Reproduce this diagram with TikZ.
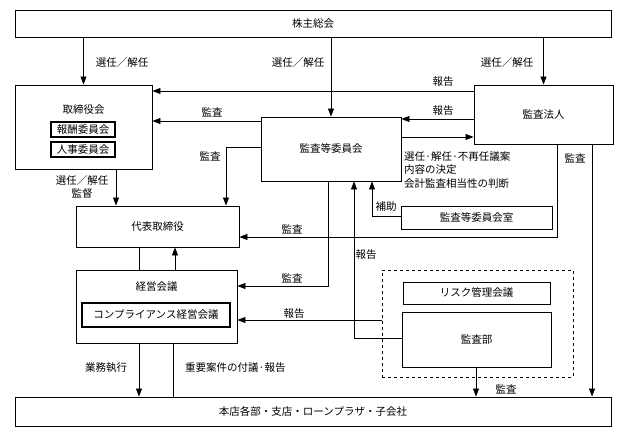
\documentclass[tikz,border=0pt]{standalone}
\usepackage{fontspec}
\setmainfont{Noto Sans CJK JP}
\usetikzlibrary{arrows.meta,calc}
\begin{document}
\begin{tikzpicture}[x=1pt,y=-1pt,
  font=\fontsize{10.5}{13.5}\selectfont,
  box/.style={draw, line width=0.9pt, inner sep=0pt, anchor=center},
  subbox/.style={draw, line width=1.2pt, inner sep=0pt, anchor=center},
  conn/.style={line width=0.7pt},
  arr/.style={conn, -{Triangle[length=8pt,width=6pt]}},
  lbl/.style={inner sep=0pt}]
\useasboundingbox (0,0) rectangle (620,438);
% boxes
\node[box, minimum width=596pt, minimum height=27pt] (sh) at (313,23.5) {株主総会};
\node[box, minimum width=137pt, minimum height=84pt] (bod) at (83.5,127) {};
\node[lbl] (bodt) at (83.5,110) {取締役会};
\node[subbox, minimum width=64pt, minimum height=15pt] (hosh) at (83,129.5) {報酬委員会};
\node[subbox, minimum width=64pt, minimum height=15pt] (jinji) at (83,149.5) {人事委員会};
\node[box, minimum width=140pt, minimum height=64pt] (aud) at (331,149) {監査等委員会};
\node[box, minimum width=139pt, minimum height=59pt] (kansa) at (543.5,114.5) {監査法人};
\node[box, minimum width=163pt, minimum height=41pt] (rep) at (157.5,226.5) {代表取締役};
\node[box, minimum width=161pt, minimum height=73pt] (mgmt) at (156.5,306.5) {};
\node[lbl] (mgmtt) at (156.5,287) {経営会議};
\node[subbox, minimum width=148pt, minimum height=24pt] (comp) at (156,315) {コンプライアンス経営会議};
\node[box, minimum width=151pt, minimum height=23pt] (office) at (476.5,217.5) {監査等委員会室};
\node[draw, dashed, line width=0.9pt, minimum width=191pt, minimum height=107pt, inner sep=0pt] (dash) at (477.5,323.5) {};
\node[box, minimum width=147pt, minimum height=22pt] (risk) at (476.5,293) {リスク管理会議};
\node[box, minimum width=149pt, minimum height=55pt] (auddept) at (476.5,339.5) {監査部};
\node[box, minimum width=596pt, minimum height=29pt] (bottom) at (313,411.5) {本店各部・支店・ローンプラザ・子会社};
% helper coordinates
\coordinate (y91) at (0,91);
\coordinate (y119) at (0,119);
\coordinate (y121) at (0,121);
\coordinate (y137) at (0,137);
\coordinate (y147) at (0,147);
\coordinate (y216) at (0,216);
\coordinate (y237) at (0,237);
\coordinate (y286) at (0,286);
\coordinate (y320) at (0,320);
\coordinate (y338) at (0,338);
\coordinate (x116) at (116,0);
\coordinate (x139) at (139,0);
\coordinate (x173) at (173,0);
\coordinate (x175) at (175,0);
\coordinate (x226) at (226,0);
\coordinate (x328) at (328,0);
\coordinate (x354) at (354,0);
\coordinate (x372) at (372,0);
\coordinate (x476) at (476,0);
\coordinate (x557) at (557,0);
\coordinate (x592) at (592,0);
% connectors
\draw[arr] (bod.north |- sh.south) -- (bod.north);
\draw[arr] (aud.north |- sh.south) -- (aud.north);
\draw[arr] (kansa.north |- sh.south) -- (kansa.north);
\draw[arr] (kansa.west |- y91) -- (bod.east |- y91);
\draw[arr] (aud.west |- y121) -- (bod.east |- y121);
\draw[arr] (kansa.west |- y119) -- (aud.east |- y119);
\draw[arr] (aud.east |- y137) -- (kansa.west |- y137);
\draw[arr] (aud.west |- y147) -- (x226 |- y147) -- (x226 |- rep.north);
\draw[arr] (x116 |- bod.south) -- (x116 |- rep.north);
\draw[conn] (x139 |- rep.south) -- (x139 |- mgmt.north);
\draw[arr] (x175 |- mgmt.north) -- (x175 |- rep.south);
\draw[arr] (x557 |- kansa.south) -- (x557 |- y237) -- (rep.east |- y237);
\draw[arr] (x592 |- kansa.south) -- (x592 |- bottom.north);
\draw[arr] (office.west |- y216) -- (x372 |- y216) -- (x372 |- aud.south);
\draw[arr] (auddept.west |- y338) -- (x354 |- y338) -- (x354 |- aud.south);
\draw[arr] (x328 |- aud.south) -- (x328 |- y286) -- (mgmt.east |- y286);
\draw[arr] (dash.west |- y320) -- (mgmt.east |- y320);
\draw[arr] (x476 |- auddept.south) -- (x476 |- bottom.north);
\draw[arr] (x139 |- mgmt.south) -- (x139 |- bottom.north);
\draw[conn] (x173 |- mgmt.south) -- (x173 |- bottom.north);
% labels
\node[lbl] (l1) at (122,63) {選任／解任};
\node[lbl] (l2) at (298,63) {選任／解任};
\node[lbl] (l3) at (507,63) {選任／解任};
\node[lbl] (l4) at (443,82) {報告};
\node[lbl] (l5) at (212,112) {監査};
\node[lbl] (l6) at (443,111) {報告};
\node[lbl] (l7) at (210,156) {監査};
\node[lbl] (l8) at (82,181) {選任／解任};
\node[lbl] (l9) at (82,194) {監督};
\node[lbl] (l10) at (575,158) {監査};
\node[lbl, anchor=west, align=left] (l11) at (404,170) {選任·解任·不再任議案\\内容の決定\\会計監査相当性の判断};
\node[lbl] (l12) at (386,207) {補助};
\node[lbl] (l13) at (292,229) {監査};
\node[lbl] (l14) at (366,255) {報告};
\node[lbl] (l15) at (292,278) {監査};
\node[lbl] (l16) at (294,314) {報告};
\node[lbl] (l17) at (506,389) {監査};
\node[lbl] (l18) at (106,368) {業務執行};
\node[lbl, anchor=west] (l19) at (185,368) {重要案件の付議·報告};
\end{tikzpicture}
\end{document}
